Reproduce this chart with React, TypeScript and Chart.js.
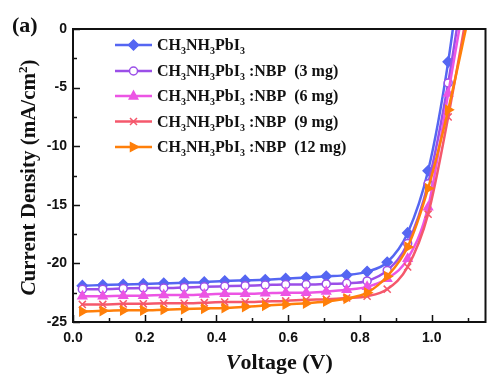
import React, { useEffect, useRef } from "react";
import { Chart, registerables } from "chart.js";

Chart.register(...registerables);

const voltage = [0.026, 0.083, 0.14, 0.196, 0.253, 0.31, 0.366, 0.423, 0.48, 0.536, 0.593, 0.65, 0.706, 0.763, 0.82, 0.876, 0.933, 0.99, 1.046, 1.103];
const jPristine = [-21.9, -21.85, -21.8, -21.75, -21.7, -21.65, -21.6, -21.5, -21.45, -21.4, -21.3, -21.2, -21.1, -21.0, -20.7, -19.9, -17.4, -12.1, -2.8, 10.5];
const jNbp3 = [-22.2, -22.2, -22.15, -22.1, -22.1, -22.05, -22.0, -21.95, -21.9, -21.85, -21.8, -21.8, -21.75, -21.7, -21.5, -20.6, -18.3, -13.2, -4.6, 6.8];
const jNbp6 = [-22.8, -22.8, -22.75, -22.75, -22.7, -22.7, -22.65, -22.6, -22.6, -22.55, -22.5, -22.5, -22.4, -22.25, -22.0, -21.3, -19.6, -15.2, -5.5, 4.6];
const jNbp9 = [-23.5, -23.5, -23.45, -23.45, -23.4, -23.4, -23.35, -23.3, -23.3, -23.25, -23.2, -23.1, -23.05, -22.95, -22.8, -22.2, -20.3, -15.8, -7.5, 2.2];
const jNbp12 = [-24.1, -24.05, -24.0, -24.0, -23.95, -23.9, -23.85, -23.8, -23.7, -23.6, -23.5, -23.4, -23.25, -23.0, -22.5, -21.1, -18.6, -13.6, -6.9, 1.1];

const seriesValues = [jPristine, jNbp3, jNbp6, jNbp9, jNbp12];
const seriesSuffix = ["", " :NBP  (3 mg)", " :NBP  (6 mg)", " :NBP  (9 mg)", " :NBP  (12 mg)"];
const seriesColors = ["#5566F2", "#9B4FE8", "#EC55E4", "#F5586C", "#FF7F0A"];
const seriesMarkers = ["rectRot", "circle", "triangle", "crossRot", "triangle"];
const markerRotation = [0, 0, 0, 0, 90];
const markerFill = [true, false, true, true, true];
const markerRadius = [5, 4, 5, 5, 5];

const xTicks = [0, 0.2, 0.4, 0.6, 0.8, 1.0];
const yTicks = [0, -5, -10, -15, -20, -25];

const SERIF = "'Liberation Serif', 'Times New Roman', serif";
const SANS = "'Liberation Sans', Arial, sans-serif";

type Part = { t: string; font: string; dy?: number };

function drawRich(ctx: CanvasRenderingContext2D, parts: Part[], x: number, y: number) {
  let cx = x;
  for (const p of parts) {
    ctx.font = p.font;
    ctx.fillText(p.t, cx, y + (p.dy || 0));
    cx += ctx.measureText(p.t).width;
  }
  return cx - x;
}

function richWidth(ctx: CanvasRenderingContext2D, parts: Part[]) {
  let w = 0;
  for (const p of parts) {
    ctx.font = p.font;
    w += ctx.measureText(p.t).width;
  }
  return w;
}

const decorPlugin = {
  id: "decor",
  afterDraw(chart: any) {
    const ctx: CanvasRenderingContext2D = chart.ctx;
    const { left, right, top, bottom } = chart.chartArea;
    const xs = chart.scales.x;
    const ys = chart.scales.y;
    ctx.save();
    // box
    ctx.strokeStyle = "#111";
    ctx.lineWidth = 2;
    ctx.strokeRect(left, top, right - left, bottom - top);
    // x ticks (inward)
    ctx.lineWidth = 1.5;
    ctx.beginPath();
    for (let i = 0; i <= 11; i++) {
      const v = i * 0.1;
      const px = Math.round(xs.getPixelForValue(v)) + 0.5;
      const len = i % 2 === 0 ? 7 : 4;
      ctx.moveTo(px, bottom);
      ctx.lineTo(px, bottom - len);
    }
    for (let i = 0; i <= 10; i++) {
      const v = -i * 2.5;
      const py = Math.round(ys.getPixelForValue(v)) + 0.5;
      const len = i % 2 === 0 ? 7 : 4;
      ctx.moveTo(left, py);
      ctx.lineTo(left + len, py);
    }
    ctx.stroke();

    ctx.fillStyle = "#111";
    ctx.textBaseline = "alphabetic";
    // (a)
    ctx.font = `bold 22px ${SERIF}`;
    ctx.fillText("(a)", 12, 32);

    // x title
    const xParts: Part[] = [
      { t: "V", font: `italic bold 22px ${SERIF}` },
      { t: "oltage (V)", font: `bold 22px ${SERIF}` },
    ];
    const xw = richWidth(ctx, xParts);
    drawRich(ctx, xParts, (left + right) / 2 - xw / 2, 369);

    // y title
    const yParts: Part[] = [
      { t: "C", font: `italic bold 21px ${SERIF}` },
      { t: "urrent Density (mA/cm", font: `bold 21px ${SERIF}` },
      { t: "2", font: `bold 13px ${SERIF}`, dy: -8 },
      { t: ")", font: `bold 21px ${SERIF}` },
    ];
    const yw = richWidth(ctx, yParts);
    ctx.save();
    ctx.translate(35, (top + bottom) / 2 + 2);
    ctx.rotate(-Math.PI / 2);
    drawRich(ctx, yParts, -yw / 2, 0);
    ctx.restore();

    // legend
    const rowY = [45, 71, 96, 121.5, 147];
    for (let i = 0; i < 5; i++) {
      const y = rowY[i];
      ctx.strokeStyle = seriesColors[i];
      ctx.lineWidth = 2.5;
      ctx.beginPath();
      ctx.moveTo(115, y);
      ctx.lineTo(152, y);
      ctx.stroke();
      const ds = chart.data.datasets[i];
      (Chart as any).helpers?.drawPoint;
      drawMarker(ctx, i, 133.5, y);
      ctx.fillStyle = "#111";
      const big = `bold 16px ${SERIF}`;
      const sub = `bold 10px ${SERIF}`;
      const parts: Part[] = [
        { t: "CH", font: big },
        { t: "3", font: sub, dy: 4 },
        { t: "NH", font: big },
        { t: "3", font: sub, dy: 4 },
        { t: "PbI", font: big },
        { t: "3", font: sub, dy: 4 },
      ];
      if (seriesSuffix[i]) parts.push({ t: seriesSuffix[i], font: big });
      drawRich(ctx, parts, 157, y + 5);
    }
    ctx.restore();
  },
};

function drawMarker(ctx: CanvasRenderingContext2D, i: number, x: number, y: number) {
  const c = seriesColors[i];
  const r = markerRadius[i];
  ctx.save();
  ctx.fillStyle = markerFill[i] ? c : "#fff";
  ctx.strokeStyle = c;
  ctx.lineWidth = 1.5;
  ctx.beginPath();
  const m = seriesMarkers[i];
  if (m === "rectRot") {
    ctx.moveTo(x, y - r);
    ctx.lineTo(x + r, y);
    ctx.lineTo(x, y + r);
    ctx.lineTo(x - r, y);
    ctx.closePath();
    ctx.fill();
    ctx.stroke();
  } else if (m === "circle") {
    ctx.arc(x, y, r, 0, Math.PI * 2);
    ctx.fill();
    ctx.stroke();
  } else if (m === "triangle") {
    if (markerRotation[i] === 90) {
      ctx.moveTo(x + r, y);
      ctx.lineTo(x - r * 0.6, y - r * 0.85);
      ctx.lineTo(x - r * 0.6, y + r * 0.85);
    } else {
      ctx.moveTo(x, y - r);
      ctx.lineTo(x + r * 0.85, y + r * 0.6);
      ctx.lineTo(x - r * 0.85, y + r * 0.6);
    }
    ctx.closePath();
    ctx.fill();
    ctx.stroke();
  } else {
    ctx.moveTo(x - r * 0.7, y - r * 0.7);
    ctx.lineTo(x + r * 0.7, y + r * 0.7);
    ctx.moveTo(x + r * 0.7, y - r * 0.7);
    ctx.lineTo(x - r * 0.7, y + r * 0.7);
    ctx.stroke();
  }
  ctx.restore();
}

export default function App() {
  const ref = useRef<HTMLCanvasElement>(null);
  useEffect(() => {
    document.body.style.margin = "0";
    const canvas = ref.current!;
    const datasets = seriesValues.map((vals, i) => ({
      label: "CH3NH3PbI3" + seriesSuffix[i],
      data: voltage.map((v, k) => ({ x: v, y: vals[k] })),
      borderColor: seriesColors[i],
      backgroundColor: markerFill[i] ? seriesColors[i] : "#ffffff",
      pointBackgroundColor: markerFill[i] ? seriesColors[i] : "#ffffff",
      pointBorderColor: seriesColors[i],
      pointBorderWidth: 1.5,
      pointStyle: seriesMarkers[i],
      pointRotation: markerRotation[i],
      pointRadius: markerRadius[i],
      borderWidth: 2.5,
      tension: 0.4,
      cubicInterpolationMode: "monotone" as const,
      fill: false,
      order: 4 - i,
    }));
    const chart = new Chart(canvas, {
      type: "line",
      data: { datasets },
      options: {
        responsive: false,
        animation: false,
        layout: { padding: { top: 29, right: 2, left: 0, bottom: 0 } },
        plugins: { legend: { display: false }, tooltip: { enabled: false } },
        scales: {
          x: {
            type: "linear",
            min: 0,
            max: 1.15,
            afterFit: (s: any) => {
              s.height = 54;
            },
            afterBuildTicks: (s: any) => {
              s.ticks = xTicks.map((v) => ({ value: v }));
            },
            grid: { display: false, drawTicks: false },
            border: { display: false },
            ticks: {
              padding: 8,
              color: "#111",
              font: { family: SANS, weight: "bold", size: 14 },
              callback: (v: any) => Number(v).toFixed(1),
              maxRotation: 0,
            },
          },
          y: {
            type: "linear",
            min: -25,
            max: 0,
            afterFit: (s: any) => {
              s.width = 73;
            },
            afterBuildTicks: (s: any) => {
              s.ticks = yTicks.map((v) => ({ value: v }));
            },
            grid: { display: false, drawTicks: false },
            border: { display: false },
            ticks: {
              padding: 6,
              color: "#111",
              font: { family: SANS, weight: "bold", size: 14 },
              callback: (v: any) => String(v),
            },
          },
        },
      },
      plugins: [decorPlugin],
    } as any);
    return () => chart.destroy();
  }, []);
  return (
    <div style={{ position: "absolute", left: 0, top: 0, width: 492, height: 376, background: "#fff" }}>
      <canvas ref={ref} width={492} height={376} />
    </div>
  );
}
